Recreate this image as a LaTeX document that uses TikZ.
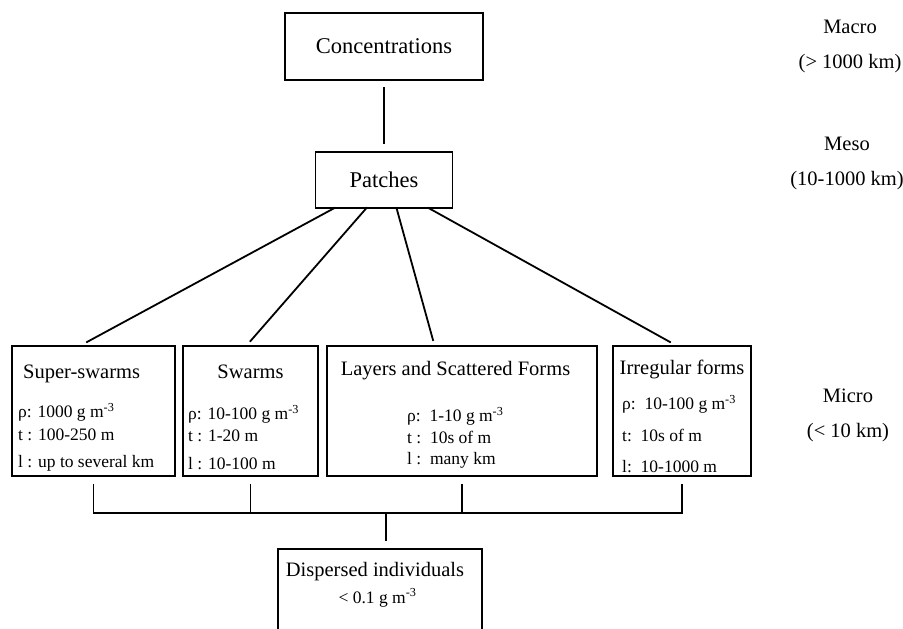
\documentclass[tikz,border=0pt]{standalone}
\usepackage{fontspec}
\setmainfont{Liberation Serif}
\usetikzlibrary{positioning}

\begin{document}
\begin{tikzpicture}[
    x=1pt, y=-1pt,
    node distance=8pt and 8pt,
    levelbox/.style={draw=black, line width=1.8pt, outer sep=0pt, inner sep=0pt, font=\fontsize{22.5}{27}\selectfont},
    microbox/.style={draw=black, line width=1.8pt, outer sep=0pt, inner sep=0pt, minimum height=130pt},
    title/.style={inner sep=0pt, font=\fontsize{20.5}{24}\selectfont},
    datatext/.style={inner sep=0pt, align=left, anchor=north west, font=\fontsize{17.5}{22}\selectfont},
    scalelabel/.style={align=center, inner sep=0pt, font=\fontsize{20.5}{35}\selectfont},
    link/.style={line width=1.8pt, line cap=rect},
    thinlink/.style={line width=1.1pt}
]
\useasboundingbox (0,0) rectangle (903,629);
\clip (0,0) rectangle (903,629);

\node[levelbox, minimum width=198pt, minimum height=67pt] (conc) at (384,46.5) {Concentrations};
\node[levelbox, minimum width=137pt, minimum height=56pt, below=72pt of conc] (patch) {Patches};

\node[scalelabel] (macro) at (850,46.5) {Macro\\(> 1000 km)};
\node[scalelabel] (meso) at (847,163.5) {Meso\\(10-1000 km)};
\node[scalelabel] (micro) at (848,415.5) {Micro\\(< 10 km)};

\node[microbox, minimum width=163pt] (ss) at (93.5,411) {};
\node[microbox, minimum width=135pt, right=of ss] (sw) {};
\node[microbox, minimum width=270pt, right=9pt of sw] (ly) {};
\node[microbox, minimum width=138pt, right=16pt of ly] (ir) {};

\node[title, anchor=base west] (ss-t) at ([xshift=11pt, yshift=-32pt]ss.north west) {Super-swarms};
\node[title, anchor=base] (sw-t) at ([yshift=-32pt]sw.north) {Swarms};
\node[title, anchor=base] (ly-t) at ([xshift=-6.5pt, yshift=-29pt]ly.north) {Layers and Scattered Forms};
\node[title, anchor=base] (ir-t) at ([yshift=-28pt]ir.north) {Irregular forms};

\node[datatext] (ss-d) at ([xshift=6pt, yshift=-57pt]ss.north west) {ρ: 1000 g m\textsuperscript{-3}\\[1pt] t : 100-250 m\\[5pt] l : up to several km};
\node[datatext] (sw-d) at ([xshift=5pt, yshift=-59pt]sw.north west) {ρ: 10-100 g m\textsuperscript{-3}\\ t : 1-20 m\\[6pt] l : 10-100 m};
\node[datatext] (ly-d) at ([xshift=80pt, yshift=-61pt]ly.north west) {ρ:\enspace 1-10 g m\textsuperscript{-3}\\ t :\enspace 10s of m\\[-1pt] l :\enspace many km};
\node[datatext] (ir-d) at ([xshift=9pt, yshift=-49pt]ir.north west) {ρ:\enspace 10-100 g m\textsuperscript{-3}\\[10pt] t:\enspace 10s of m\\[9pt] l:\enspace 10-1000 m};

\node[microbox, minimum width=204pt, minimum height=120pt, anchor=north] (dp) at (380,549) {};
\node[title, anchor=base] (dp-t) at ([xshift=-5pt, yshift=-27pt]dp.north) {Dispersed individuals};
\node[datatext, anchor=base] (dp-d) at ([xshift=-2.5pt, yshift=-54pt]dp.north) {< 0.1 g m\textsuperscript{-3}};

\draw[thinlink, shorten <=7pt, shorten >=8pt] (conc.south) -- (patch.north);
\draw[link] ([xshift=-49.5pt]patch.south) -- ([xshift=-6.5pt, yshift=4pt]ss.north);
\draw[link] ([xshift=-17.5pt]patch.south) -- ([yshift=5pt]sw.north);
\draw[link] ([xshift=12.5pt]patch.south) -- ([xshift=-29pt, yshift=6pt]ly.north);
\draw[link] ([xshift=44.5pt]patch.south) -- ([xshift=-12pt, yshift=4pt]ir.north);

\coordinate (joint) at (386,513);
\foreach \b in {ss,sw,ly,ir}
  \draw[link, shorten <=9pt] (\b.south) -- (\b.south |- joint);
\draw[link] (ss.south |- joint) -- (ir.south |- joint);
\draw[link, shorten >=9pt] (joint) -- (joint |- dp.north);
\end{tikzpicture}
\end{document}
